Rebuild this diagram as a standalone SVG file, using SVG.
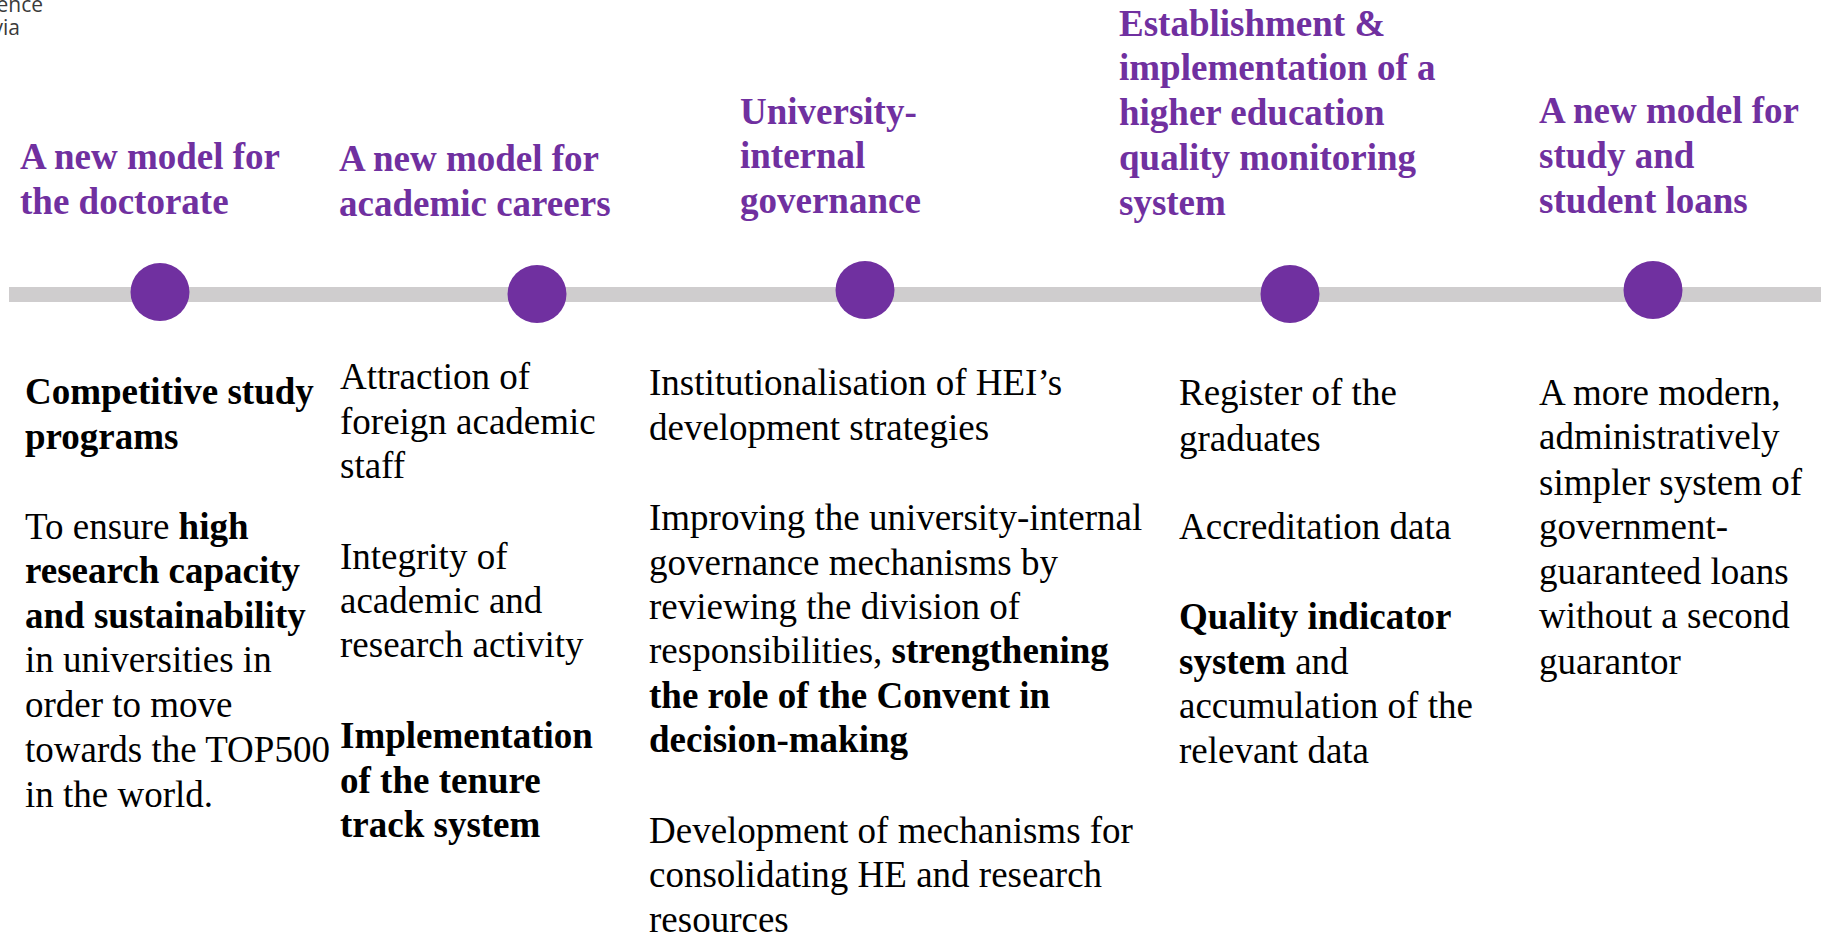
<svg xmlns="http://www.w3.org/2000/svg" width="1821" height="935" viewBox="0 0 1821 935">
<style>
.t{font-family:"Liberation Serif","Times New Roman",serif;font-size:37px;font-weight:bold;fill:#7030A0}
.b{font-family:"Liberation Serif","Times New Roman",serif;font-size:37px;fill:#000}
.bb{font-weight:bold}
.dot{fill:#7030A0}
.logo{font-family:"Open Sans","Noto Sans",sans-serif;font-size:21px;fill:#3a3a3a}
</style>
<rect width="1821" height="935" fill="#fff"/>
<g id="logo">
<text class="logo" x="43" y="12" text-anchor="end">ence</text>
<text class="logo" x="20" y="35" text-anchor="end">via</text>
</g>
<g id="connectors">
<rect x="9" y="287" width="1812" height="15" fill="#CFCDCE"/>
</g>
<g id="node1">
<ellipse class="dot" cx="160" cy="292" rx="29.5" ry="29"/>
<text class="t" x="20"><tspan x="20" y="169">A new model for</tspan><tspan x="20" y="214">the doctorate</tspan></text>
<text class="b" x="25"><tspan x="25" y="404" class="bb">Competitive study</tspan><tspan x="25" y="449" class="bb">programs</tspan><tspan x="25" y="539">To ensure <tspan class="bb">high</tspan></tspan><tspan x="25" y="583" class="bb">research capacity</tspan><tspan x="25" y="628" class="bb">and sustainability</tspan><tspan x="25" y="672">in universities in</tspan><tspan x="25" y="717">order to move</tspan><tspan x="25" y="762">towards the TOP500</tspan><tspan x="25" y="807">in the world.</tspan></text>
</g>
<g id="node2">
<ellipse class="dot" cx="537" cy="294" rx="29.5" ry="29"/>
<text class="t"><tspan x="339" y="171">A new model for</tspan><tspan x="339" y="216">academic careers</tspan></text>
<text class="b"><tspan x="340" y="389">Attraction of</tspan><tspan x="340" y="434">foreign academic</tspan><tspan x="340" y="478">staff</tspan><tspan x="340" y="569">Integrity of</tspan><tspan x="340" y="613">academic and</tspan><tspan x="340" y="657">research activity</tspan><tspan x="340" y="748" class="bb">Implementation</tspan><tspan x="340" y="793" class="bb">of the tenure</tspan><tspan x="340" y="837" class="bb">track system</tspan></text>
</g>
<g id="node3">
<ellipse class="dot" cx="865" cy="290" rx="29.5" ry="29"/>
<text class="t"><tspan x="740" y="124">University-</tspan><tspan x="740" y="168">internal</tspan><tspan x="740" y="213">governance</tspan></text>
<text class="b"><tspan x="649" y="395">Institutionalisation of HEI’s</tspan><tspan x="649" y="440">development strategies</tspan><tspan x="649" y="530">Improving the university-internal</tspan><tspan x="649" y="575">governance mechanisms by</tspan><tspan x="649" y="619">reviewing the division of</tspan><tspan x="649" y="663">responsibilities, <tspan class="bb">strengthening</tspan></tspan><tspan x="649" y="708" class="bb">the role of the Convent in</tspan><tspan x="649" y="752" class="bb">decision-making</tspan><tspan x="649" y="843">Development of mechanisms for</tspan><tspan x="649" y="887">consolidating HE and research</tspan><tspan x="649" y="932">resources</tspan></text>
</g>
<g id="node4">
<ellipse class="dot" cx="1290" cy="294" rx="29.5" ry="29"/>
<text class="t"><tspan x="1119" y="36">Establishment &amp;</tspan><tspan x="1119" y="80">implementation of a</tspan><tspan x="1119" y="125">higher education</tspan><tspan x="1119" y="170">quality monitoring</tspan><tspan x="1119" y="215">system</tspan></text>
<text class="b"><tspan x="1179" y="405">Register of the</tspan><tspan x="1179" y="451">graduates</tspan><tspan x="1179" y="539">Accreditation data</tspan><tspan x="1179" y="629" class="bb">Quality indicator</tspan><tspan x="1179" y="674"><tspan class="bb">system</tspan> and</tspan><tspan x="1179" y="718">accumulation of the</tspan><tspan x="1179" y="763">relevant data</tspan></text>
</g>
<g id="node5">
<ellipse class="dot" cx="1653" cy="290" rx="29.5" ry="29"/>
<text class="t"><tspan x="1539" y="123">A new model for</tspan><tspan x="1539" y="168">study and</tspan><tspan x="1539" y="213">student loans</tspan></text>
<text class="b"><tspan x="1539" y="405">A more modern,</tspan><tspan x="1539" y="449">administratively</tspan><tspan x="1539" y="495">simpler system of</tspan><tspan x="1539" y="539">government-</tspan><tspan x="1539" y="584">guaranteed loans</tspan><tspan x="1539" y="628">without a second</tspan><tspan x="1539" y="674">guarantor</tspan></text>
</g>
</svg>
